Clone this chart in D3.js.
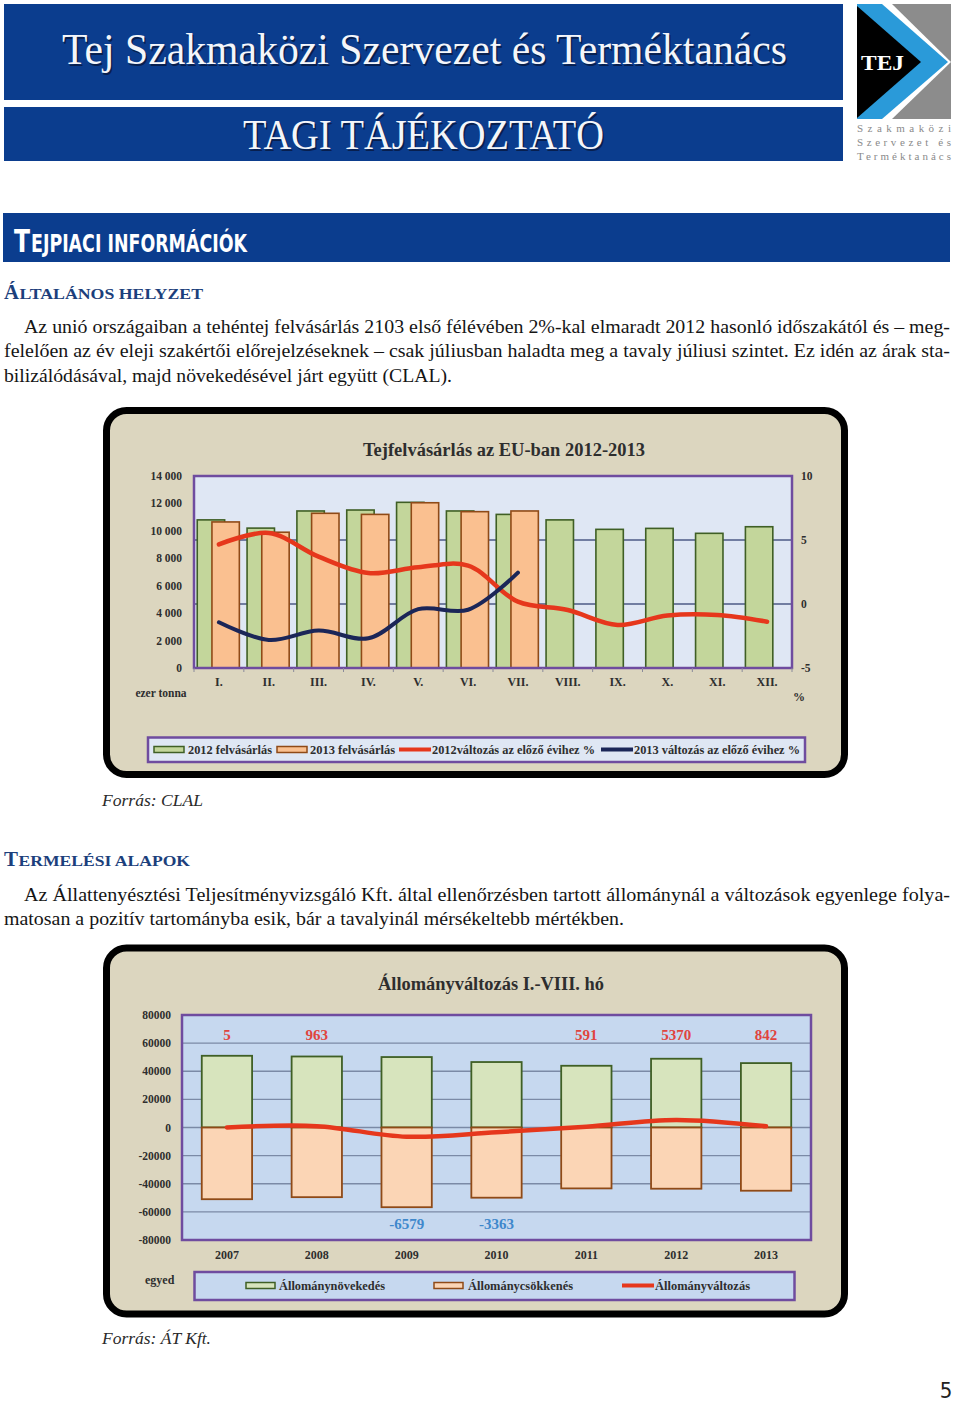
<!DOCTYPE html>
<html><head><meta charset="utf-8">
<script src="https://cdn.jsdelivr.net/npm/d3@7"></script>
<style>body{margin:0;background:#fff}svg{display:block}</style>
</head><body><svg id="page" width="960" height="1403"></svg>
<script>
// ---------- DATA ----------
const months = ["I.","II.","III.","IV.","V.","VI.","VII.","VIII.","IX.","X.","XI.","XII."];
const purchase2012 = [10800,10200,11450,11520,12080,11450,11200,10800,10110,10180,9820,10300];
const purchase2013 = [10650,9900,11280,11200,12050,11400,11450];
const change2012 = [4.66,5.55,3.7,2.42,2.87,3.0,0.18,-0.47,-1.64,-0.9,-0.86,-1.38];
const change2013 = [-1.43,-2.81,-2.08,-2.68,-0.4,-0.45,2.45];
const leftTicks1 = [0,2000,4000,6000,8000,10000,12000,14000];
const rightTicks1 = [-5,0,5,10];
const legend1 = ["2012 felvásárlás","2013 felvásárlás","2012változás az előző évihez %","2013 változás az előző évihez %"];

const years = ["2007","2008","2009","2010","2011","2012","2013"];
const herdGrowth = [51000,50500,50100,46550,43900,48900,45800];
const herdDecline = [-50995,-49537,-56679,-49913,-43309,-43530,-44958];
const herdNet = [5,963,-6579,-3363,591,5370,842];
const ticks2 = [-80000,-60000,-40000,-20000,0,20000,40000,60000,80000];
const legend2 = ["Állománynövekedés","Állománycsökkenés","Állományváltozás"];

// ---------- STYLE ----------
const SERIF = "'Liberation Serif','Times New Roman',serif";
const NARROW = "'Liberation Sans Narrow','DejaVu Sans Condensed','Arial Narrow',sans-serif";
const BLUE = "#0b3d8e";
const HEAD = "#1c3f7c";
const GREEN = "#c3d69b", GREEN_S = "#3f5f25";
const ORANGE = "#fac090", ORANGE_S = "#8f4a17";
const RED = "#e6371c", NAVY = "#1b2658";
const FRAME_BG = "#dcd6bf";
const PURPLE = "#6f4c9f";

const svg = d3.select("#page");

// ---------- HEADER ----------
svg.append("rect").attr("x",4).attr("y",4).attr("width",839).attr("height",96).attr("fill",BLUE);
svg.append("rect").attr("x",4).attr("y",107).attr("width",839).attr("height",54).attr("fill",BLUE);
function bannerText(txt,x,y,size,len){
  svg.append("text").attr("x",x+1.5).attr("y",y+1.5).attr("font-family",SERIF).attr("font-size",size)
    .attr("fill","#08183f").attr("opacity",0.8).attr("textLength",len).attr("lengthAdjust","spacingAndGlyphs").text(txt);
  svg.append("text").attr("x",x).attr("y",y).attr("font-family",SERIF).attr("font-size",size)
    .attr("fill","#f4f6fa").attr("textLength",len).attr("lengthAdjust","spacingAndGlyphs").text(txt);
}
bannerText("Tej Szakmaközi Szervezet és Terméktanács",62,64,44,725);
bannerText("TAGI TÁJÉKOZTATÓ",243,149,42,361);

// logo
svg.append("rect").attr("x",892).attr("y",4).attr("width",59).attr("height",115).attr("fill","#8c8c8c");
svg.append("polygon").attr("points","857,4 892,4 951,62 892,119 857,119").attr("fill","#ffffff");
svg.append("polygon").attr("points","857,4 882,4 948,62 882,119 857,119").attr("fill","#2a9ad9");
svg.append("polygon").attr("points","857,6 921,62 857,118").attr("fill","#000");
svg.append("text").attr("x",861).attr("y",70).attr("font-family",SERIF).attr("font-weight","bold")
  .attr("font-size",21).attr("fill","#fff").attr("textLength",43).attr("lengthAdjust","spacingAndGlyphs").text("TEJ");
[["Szakmaközi",132],["Szervezet és",146],["Terméktanács",160]].forEach(([t,y])=>{
  svg.append("text").attr("x",857).attr("y",y).attr("font-family",SERIF).attr("font-size",11)
    .attr("fill","#8a8a8a").attr("textLength",94).attr("lengthAdjust","spacing").text(t);
});

// section band
svg.append("rect").attr("x",3).attr("y",213).attr("width",947).attr("height",49).attr("fill",BLUE);
svg.append("text").attr("x",14).attr("y",252).attr("font-family",NARROW).attr("font-weight","bold")
  .attr("fill","#fff").attr("font-size",32).attr("textLength",16).attr("lengthAdjust","spacingAndGlyphs").text("T");
svg.append("text").attr("x",31).attr("y",252).attr("font-family",NARROW).attr("font-weight","bold")
  .attr("fill","#fff").attr("font-size",24).attr("textLength",216).attr("lengthAdjust","spacingAndGlyphs").text("EJPIACI INFORMÁCIÓK");

function smallCapsHeading(first,rest,x,y,w1,len){
  svg.append("text").attr("x",x).attr("y",y).attr("font-family",SERIF).attr("font-weight","bold")
    .attr("fill",HEAD).attr("font-size",22).attr("textLength",w1).attr("lengthAdjust","spacingAndGlyphs").text(first);
  svg.append("text").attr("x",x+w1+0.5).attr("y",y).attr("font-family",SERIF).attr("font-weight","bold")
    .attr("fill",HEAD).attr("font-size",15.5).attr("textLength",len-w1-0.5).attr("lengthAdjust","spacingAndGlyphs").text(rest);
}
smallCapsHeading("Á","LTALÁNOS HELYZET",4,299,15,199);
smallCapsHeading("T","ERMELÉSI ALAPOK",4,866,14,186);

function para(lines){
  lines.forEach(l=>{
    svg.append("text").attr("x",l.x).attr("y",l.y).attr("font-family",SERIF)
      .attr("font-size",19).attr("fill","#151515")
      .attr("textLength",l.w).attr("lengthAdjust","spacingAndGlyphs").text(l.t);
  });
}
para([
  {t:"Az unió országaiban a tehéntej felvásárlás 2103 első félévében 2%-kal elmaradt 2012 hasonló időszakától és – meg-",x:24,y:333,w:926},
  {t:"felelően az év eleji szakértői előrejelzéseknek – csak júliusban haladta meg a tavaly júliusi szintet. Ez idén az árak sta-",x:4,y:357,w:946},
  {t:"bilizálódásával, majd növekedésével járt együtt (CLAL).",x:4,y:382,w:448}
]);
para([
  {t:"Az Állattenyésztési Teljesítményvizsgáló Kft. által ellenőrzésben tartott állománynál a változások egyenlege folya-",x:24,y:901,w:926},
  {t:"matosan a pozitív tartományba esik, bár a tavalyinál mérsékeltebb mértékben.",x:4,y:925,w:620}
]);
function source(t,y,w){
  svg.append("text").attr("x",102).attr("y",y).attr("font-family",SERIF).attr("font-style","italic")
    .attr("font-size",17).attr("fill","#2a2a2a").attr("textLength",w).attr("lengthAdjust","spacingAndGlyphs").text(t);
}
source("Forrás: CLAL",806,101);
source("Forrás: ÁT Kft.",1344,109);
svg.append("text").attr("x",946).attr("y",1398).attr("text-anchor","middle").attr("font-family",NARROW)
  .attr("font-size",22).attr("fill","#222").text("5");

// ---------- CHART FRAMES ----------
function frame(y,h){
  svg.append("rect").attr("x",106.5).attr("y",y).attr("width",738).attr("height",h)
    .attr("rx",20).attr("fill",FRAME_BG).attr("stroke","#000").attr("stroke-width",7);
}
frame(410.5,364);
frame(948,366);

const lab = (g)=>g.attr("font-family",SERIF).attr("font-weight","bold").attr("fill","#2e2e2e");

// ---------- CHART 1 ----------
{
  const x = d3.scaleBand().domain(months).range([194,792]);
  const bw = x.bandwidth();
  const yL = d3.scaleLinear().domain([0,14000]).range([668,476]);
  const yR = d3.scaleLinear().domain([-5,10]).range([668,476]);
  const g = svg.append("g");
  g.append("rect").attr("x",194).attr("y",476).attr("width",598).attr("height",192).attr("fill","#dfe7f4");
  g.selectAll(".gr").data([0,5]).join("line").attr("x1",194).attr("x2",792)
    .attr("y1",d=>yR(d)).attr("y2",d=>yR(d)).attr("stroke","#4c5a86").attr("stroke-width",1.6);
  g.selectAll(".b12").data(purchase2012).join("rect")
    .attr("x",(d,i)=>x(months[i])+bw*0.065).attr("width",bw*0.55)
    .attr("y",d=>yL(d)).attr("height",d=>yL(0)-yL(d))
    .attr("fill",GREEN).attr("stroke",GREEN_S).attr("stroke-width",1.6);
  g.selectAll(".b13").data(purchase2013).join("rect")
    .attr("x",(d,i)=>x(months[i])+bw*0.36).attr("width",bw*0.55)
    .attr("y",d=>yL(d)).attr("height",d=>yL(0)-yL(d))
    .attr("fill",ORANGE).attr("stroke",ORANGE_S).attr("stroke-width",1.6);
  g.append("rect").attr("x",194).attr("y",476).attr("width",598).attr("height",192)
    .attr("fill","none").attr("stroke",PURPLE).attr("stroke-width",2.5);
  g.selectAll(".tk").data(months.concat(["end"])).join("line")
    .attr("x1",(d,i)=>194+i*bw).attr("x2",(d,i)=>194+i*bw).attr("y1",668).attr("y2",672)
    .attr("stroke","#8a8a9a").attr("stroke-width",1);
  const line = d3.line().x((d,i)=>x(months[i])+bw/2).y(d=>yR(d)).curve(d3.curveCatmullRom.alpha(0.5));
  g.append("path").attr("d",line(change2012)).attr("fill","none").attr("stroke",RED)
    .attr("stroke-width",4.5).attr("stroke-linecap","round");
  g.append("path").attr("d",line(change2013)).attr("fill","none").attr("stroke",NAVY)
    .attr("stroke-width",4).attr("stroke-linecap","round");
  const fmt = v => d3.format(",")(v).replace(",", " ");
  lab(g.selectAll(".lt").data(leftTicks1).join("text")).attr("x",182).attr("y",d=>yL(d)+4)
    .attr("text-anchor","end").attr("font-size",11.5).text(fmt);
  lab(g.selectAll(".rt").data(rightTicks1).join("text")).attr("x",801).attr("y",d=>yR(d)+4)
    .attr("font-size",11.5).text(d=>String(d));
  lab(g.selectAll(".xl").data(months).join("text")).attr("x",d=>x(d)+bw/2).attr("y",686)
    .attr("text-anchor","middle").attr("font-size",12).text(d=>d);
  lab(g.append("text")).attr("x",161).attr("y",697).attr("text-anchor","middle").attr("font-size",11.5).text("ezer tonna");
  lab(g.append("text")).attr("x",799).attr("y",701).attr("text-anchor","middle").attr("font-size",12).text("%");
  lab(g.append("text")).attr("x",504).attr("y",456).attr("text-anchor","middle").attr("font-size",18)
    .attr("textLength",282).attr("lengthAdjust","spacingAndGlyphs").text("Tejfelvásárlás az EU-ban 2012-2013");
  g.append("rect").attr("x",148).attr("y",737.5).attr("width",657).attr("height",24.5)
    .attr("fill","#dfe7f4").attr("stroke",PURPLE).attr("stroke-width",2.5);
  const items = [
    {k:"bar",f:GREEN,s:GREEN_S,x:154,tx:188,te:272},
    {k:"bar",f:ORANGE,s:ORANGE_S,x:277,tx:310,te:395},
    {k:"line",s:RED,x:399,tx:432,te:595},
    {k:"line",s:NAVY,x:601,tx:634,te:800}
  ];
  items.forEach((it,i)=>{
    if(it.k==="bar") g.append("rect").attr("x",it.x).attr("y",746.5).attr("width",30).attr("height",6)
      .attr("fill",it.f).attr("stroke",it.s).attr("stroke-width",1.5);
    else g.append("line").attr("x1",it.x).attr("x2",it.x+32).attr("y1",749.5).attr("y2",749.5)
      .attr("stroke",it.s).attr("stroke-width",4);
    lab(g.append("text")).attr("x",it.tx).attr("y",753.5).attr("font-size",12)
      .attr("textLength",it.te-it.tx).attr("lengthAdjust","spacingAndGlyphs").text(legend1[i]);
  });
}

// ---------- CHART 2 ----------
{
  const x = d3.scaleBand().domain(years).range([182,811]).paddingInner(0.44).paddingOuter(0.22);
  const bw = x.bandwidth();
  const y = d3.scaleLinear().domain([-80000,80000]).range([1240,1015]);
  const g = svg.append("g");
  g.append("rect").attr("x",182).attr("y",1015).attr("width",629).attr("height",225).attr("fill","#c6d8ef");
  g.selectAll(".gr").data(ticks2).join("line").attr("x1",182).attr("x2",811)
    .attr("y1",d=>y(d)).attr("y2",d=>y(d)).attr("stroke","#7b8aa6").attr("stroke-width",1.3);
  g.selectAll(".bg").data(herdGrowth).join("rect")
    .attr("x",(d,i)=>x(years[i])).attr("width",bw).attr("y",d=>y(d)).attr("height",d=>y(0)-y(d))
    .attr("fill","#d7e4bd").attr("stroke",GREEN_S).attr("stroke-width",1.8);
  g.selectAll(".bd").data(herdDecline).join("rect")
    .attr("x",(d,i)=>x(years[i])).attr("width",bw).attr("y",y(0)).attr("height",d=>y(d)-y(0))
    .attr("fill","#fbd5b5").attr("stroke",ORANGE_S).attr("stroke-width",1.8);
  g.append("rect").attr("x",182).attr("y",1015).attr("width",629).attr("height",225)
    .attr("fill","none").attr("stroke",PURPLE).attr("stroke-width",2.5);
  const line = d3.line().x((d,i)=>x(years[i])+bw/2).y(d=>y(d)).curve(d3.curveCatmullRom.alpha(0.5));
  g.append("path").attr("d",line(herdNet)).attr("fill","none").attr("stroke",RED)
    .attr("stroke-width",4.5).attr("stroke-linecap","round");
  lab(g.selectAll(".vl").data(herdNet).join("text"))
    .attr("x",(d,i)=>x(years[i])+bw/2).attr("y",d=>d>=0?y(62500):y(-72500))
    .attr("text-anchor","middle").attr("font-size",15)
    .attr("fill",d=>d>=0?"#e0443e":"#3f88cc").text(d=>String(d));
  lab(g.selectAll(".lt").data(ticks2).join("text")).attr("x",171).attr("y",d=>y(d)+4)
    .attr("text-anchor","end").attr("font-size",11.5).text(d=>String(d));
  lab(g.selectAll(".xl").data(years).join("text")).attr("x",d=>x(d)+bw/2).attr("y",1259)
    .attr("text-anchor","middle").attr("font-size",12).text(d=>d);
  lab(g.append("text")).attr("x",145).attr("y",1284).attr("font-size",12).text("egyed");
  lab(g.append("text")).attr("x",491).attr("y",990).attr("text-anchor","middle").attr("font-size",18)
    .attr("textLength",226).attr("lengthAdjust","spacingAndGlyphs").text("Állományváltozás I.-VIII. hó");
  g.append("rect").attr("x",194.5).attr("y",1272).attr("width",600).attr("height",28)
    .attr("fill","#c6d8ef").attr("stroke",PURPLE).attr("stroke-width",2.5);
  const items = [
    {k:"bar",f:"#d7e4bd",s:GREEN_S,x:246,tx:279,te:385},
    {k:"bar",f:"#fbd5b5",s:ORANGE_S,x:434,tx:468,te:573},
    {k:"line",s:RED,x:622,tx:655,te:750}
  ];
  items.forEach((it,i)=>{
    if(it.k==="bar") g.append("rect").attr("x",it.x).attr("y",1282.5).attr("width",29).attr("height",6)
      .attr("fill",it.f).attr("stroke",it.s).attr("stroke-width",1.5);
    else g.append("line").attr("x1",it.x).attr("x2",it.x+32).attr("y1",1285.5).attr("y2",1285.5)
      .attr("stroke",it.s).attr("stroke-width",4);
    lab(g.append("text")).attr("x",it.tx).attr("y",1290).attr("font-size",12)
      .attr("textLength",it.te-it.tx).attr("lengthAdjust","spacingAndGlyphs").text(legend2[i]);
  });
}
</script></body></html>
